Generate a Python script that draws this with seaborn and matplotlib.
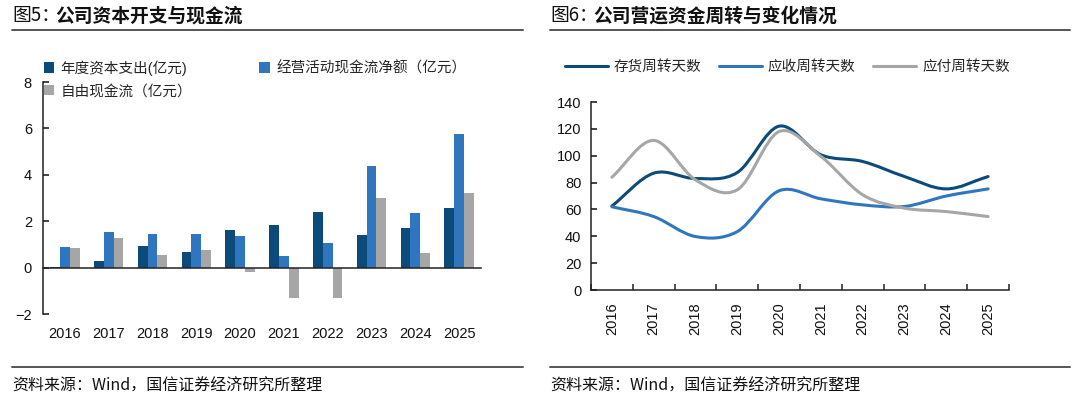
"""
图5 / 图6 再現用スクリプト
左: 資本支出とキャッシュフロー（棒グラフ）
右: 運転資金回転日数（平滑化した折れ線）
"""

import numpy as np
import pandas as pd
import seaborn as sns
import matplotlib.pyplot as plt
from matplotlib.path import Path
from matplotlib.patches import PathPatch
from matplotlib.lines import Line2D

# ---- データ ----
years = ["2016", "2017", "2018", "2019", "2020", "2021", "2022", "2023", "2024", "2025"]

capex = [0.03, 0.28, 0.95, 0.68, 1.60, 1.82, 2.41, 1.42, 1.70, 2.56]
op_cashflow = [0.89, 1.55, 1.46, 1.43, 1.36, 0.50, 1.08, 4.40, 2.34, 5.75]
free_cashflow = [0.84, 1.29, 0.54, 0.77, -0.21, -1.29, -1.31, 3.01, 0.63, 3.22]
bar_series = ["年度资本支出(亿元)", "经营活动现金流净额（亿元）", "自由现金流（亿元）"]

inventory_days = [62.5, 87, 83, 87.5, 122, 100.7, 95.7, 84.5, 75.3, 84.5]
receivable_days = [62, 54.7, 39.8, 43.5, 73.9, 67.9, 63.4, 62.2, 70, 75.3]
payable_days = [84, 111.4, 82, 74.6, 118, 99.5, 70.9, 61, 58.4, 54.7]
line_series = ["存货周转天数", "应收周转天数", "应付周转天数"]

NAVY = "#0c4a7a"
BLUE = "#2f76bf"
GRAY = "#a6a6a6"

sns.set_style("white")
plt.rcParams["font.family"] = ["Liberation Sans", "Noto Sans CJK SC", "DejaVu Sans"]
plt.rcParams["axes.edgecolor"] = "#222222"
plt.rcParams["axes.linewidth"] = 1.1

W, H = 1080, 397
fig = plt.figure(figsize=(W / 100, H / 100), dpi=100)


def px_box(x0, y0, x1, y1):
    """ピクセル座標 (左上原点) -> figure 座標の [left, bottom, width, height]"""
    return [x0 / W, 1 - y1 / H, (x1 - x0) / W, (y1 - y0) / H]


def smooth_path(xs, ys):
    """データ点を通る3次ベジェ曲線のパス（Excelの平滑線風）"""
    pts = np.column_stack([xs, ys]).astype(float)
    n = len(pts)
    tang = np.zeros_like(pts)
    tang[1:-1] = (pts[2:] - pts[:-2]) / 2
    tang[0] = pts[1] - pts[0]
    tang[-1] = pts[-1] - pts[-2]
    verts = [pts[0]]
    codes = [Path.MOVETO]
    for i in range(n - 1):
        verts += [pts[i] + tang[i] / 3, pts[i + 1] - tang[i + 1] / 3, pts[i + 1]]
        codes += [Path.CURVE4] * 3
    return Path(verts, codes)


# ---- 見出しと区切り線 ----
def header(x0, x1, num, title):
    fig.text(x0 / W, 1 - 16 / H, num, fontsize=13.5, va="center", ha="left",
             family=["Noto Sans CJK SC", "DejaVu Sans"], color="#111111")
    fig.text((x0 + 43) / W, 1 - 16 / H, title, fontsize=13.5, va="center", ha="left",
             family=["Noto Sans CJK SC", "DejaVu Sans"], weight="bold", color="#111111")
    fig.add_artist(Line2D([x0 / W, x1 / W], [1 - 30 / H] * 2, color="#555555", lw=1.4))
    fig.add_artist(Line2D([x0 / W, x1 / W], [1 - 367 / H] * 2, color="#555555", lw=1.4))
    fig.text(x0 / W, 1 - 386 / H, "资料来源：Wind，国信证券经济研究所整理", fontsize=11.5,
             va="center", ha="left", family=["Noto Sans CJK SC", "DejaVu Sans"], color="#111111")


header(12, 523, "图5：", "公司资本开支与现金流")
header(550, 1070, "图6：", "公司营运资金周转与变化情况")

# ---- 左: 棒グラフ ----
df = pd.DataFrame({
    "year": years * 3,
    "series": np.repeat(bar_series, len(years)),
    "value": capex + op_cashflow + free_cashflow,
})
ax1 = fig.add_axes(px_box(43, 82, 481, 314))
sns.barplot(data=df, x="year", y="value", hue="series", hue_order=bar_series,
            palette=[NAVY, BLUE, GRAY], saturation=1, width=0.67, linewidth=0, ax=ax1)
ax1.set_xlim(-0.5, len(years) - 0.5)
ax1.set_ylim(-2, 8)
ax1.set_yticks(range(-2, 9, 2))
ax1.set_xlabel("")
ax1.set_ylabel("")
ax1.spines["bottom"].set_position(("data", 0))
ax1.spines["top"].set_visible(False)
ax1.spines["right"].set_visible(False)
ax1.set_xticks(np.arange(-0.5, len(years)), minor=True)
ax1.tick_params(axis="x", which="major", length=0, pad=43, labelsize=10.5, colors="#111111")
ax1.tick_params(axis="x", which="minor", direction="in", length=4, width=1.1, color="#222222")
ax1.tick_params(axis="y", direction="in", length=4, width=1.1, pad=8, labelsize=10.5,
                colors="#111111", left=True)

handles, labels = ax1.get_legend_handles_labels()
order = [0, 2, 1]
ax1.legend([handles[i] for i in order], [labels[i] for i in order], ncol=2,
           loc="upper left", bbox_to_anchor=(44 / W, 1 - 60 / H), bbox_transform=fig.transFigure,
           frameon=False, fontsize=10.5, handlelength=0.7, handleheight=0.7,
           handletextpad=0.45, columnspacing=4.6, labelspacing=0.6,
           borderpad=0, borderaxespad=0)

# ---- 右: 平滑折れ線 ----
ax2 = fig.add_axes(px_box(591, 102, 1009, 290))
xpos = np.arange(len(years))
for vals, color in zip([inventory_days, receivable_days, payable_days], [NAVY, BLUE, GRAY]):
    ax2.add_patch(PathPatch(smooth_path(xpos, vals), facecolor="none", edgecolor=color,
                            lw=2.2, capstyle="round", joinstyle="round"))
ax2.set_xlim(-0.5, len(years) - 0.5)
ax2.set_ylim(0, 140)
ax2.set_yticks(range(0, 141, 20))
ax2.set_xticks(xpos, years, rotation=90)
ax2.set_xticks(np.arange(-0.5, len(years)), minor=True)
ax2.spines["top"].set_visible(False)
ax2.spines["right"].set_visible(False)
ax2.tick_params(axis="x", which="major", length=0, pad=9, labelsize=10.5, colors="#111111")
ax2.tick_params(axis="x", which="minor", direction="in", length=4, width=1.1, color="#222222",
                bottom=True)
ax2.tick_params(axis="y", direction="in", length=4, width=1.1, pad=7, labelsize=10.5,
                colors="#111111", left=True)

line_handles = [Line2D([], [], color=c, lw=2.2) for c in [NAVY, BLUE, GRAY]]
ax2.legend(line_handles, line_series, ncol=3, loc="upper left",
           bbox_to_anchor=(565 / W, 1 - 60 / H), bbox_transform=fig.transFigure,
           frameon=False, fontsize=10.5, handlelength=2.95, handletextpad=0.4,
           columnspacing=1.2, borderpad=0, borderaxespad=0)

fig.savefig("out.png", dpi=100)
